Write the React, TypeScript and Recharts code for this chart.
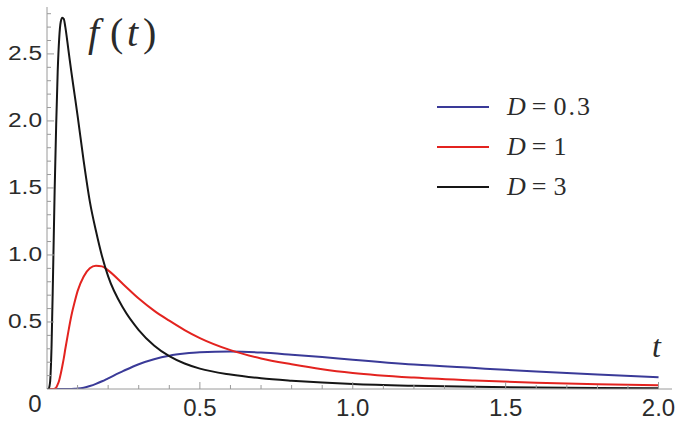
import React from "react";
import { LineChart, Line, XAxis, YAxis, Label } from "recharts";

// time grid (t) and the three curves
const tValues = [
  0, 0.005, 0.01, 0.015, 0.02, 0.025, 0.03, 0.035, 0.04, 0.045, 0.05, 0.055,
  0.06, 0.07, 0.08, 0.09, 0.1, 0.12, 0.14, 0.16, 0.18, 0.2, 0.25, 0.3, 0.35,
  0.4, 0.45, 0.5, 0.6, 0.7, 0.8, 0.9, 1.0, 1.2, 1.4, 1.6, 1.8, 2.0,
];
const d03 = [
  0, 0, 0, 0, 0, 0, 0, 0, 0, 0, 0, 0,
  0, 0, 0, 0.001, 0.003, 0.01, 0.022, 0.038, 0.058, 0.08, 0.135, 0.185, 0.222,
  0.248, 0.264, 0.274, 0.279, 0.272, 0.256, 0.238, 0.218, 0.182, 0.156, 0.131, 0.109, 0.088,
];
const d1 = [
  0, 0, 0, 0, 0, 0.002, 0.01, 0.034, 0.066, 0.114, 0.17, 0.23,
  0.3, 0.43, 0.55, 0.645, 0.73, 0.84, 0.9, 0.92, 0.915, 0.885, 0.78, 0.675, 0.585,
  0.51, 0.44, 0.38, 0.29, 0.228, 0.185, 0.148, 0.12, 0.085, 0.063, 0.047, 0.036, 0.028,
];
const d3 = [
  0, 0, 0.05, 0.33, 0.88, 1.48, 1.97, 2.37, 2.62, 2.74, 2.77, 2.76,
  2.7, 2.53, 2.36, 2.2, 2.04, 1.7, 1.4, 1.18, 0.99, 0.84, 0.6, 0.44, 0.325,
  0.245, 0.19, 0.152, 0.108, 0.08, 0.062, 0.048, 0.037, 0.024, 0.016, 0.011, 0.008, 0.006,
];

const xTicks = [
  0, 0.1, 0.2, 0.3, 0.4, 0.5, 0.6, 0.7, 0.8, 0.9, 1.0, 1.1, 1.2, 1.3, 1.4, 1.5,
  1.6, 1.7, 1.8, 1.9, 2.0,
];
const xMajor = [0, 0.5, 1.0, 1.5, 2.0];
const yTicks = [
  0.1, 0.2, 0.3, 0.4, 0.5, 0.6, 0.7, 0.8, 0.9, 1.0, 1.1, 1.2, 1.3, 1.4, 1.5,
  1.6, 1.7, 1.8, 1.9, 2.0, 2.1, 2.2, 2.3, 2.4, 2.5, 2.6, 2.7, 2.8,
];
const yMajor = [0.5, 1.0, 1.5, 2.0, 2.5];

const seriesKeys = ["d03", "d1", "d3"];
const seriesLabels = ["0.3", "1", "3"];
const seriesColors = ["#3a3a98", "#e3231f", "#161616"];

const chartData = tValues.map((t, i) => ({ t, d03: d03[i], d1: d1[i], d3: d3[i] }));

const AXIS = "#9a9a9a";
const LABEL = "#2b2b2b";
const SANS = "'Liberation Sans', Arial, sans-serif";
const SERIF = "'Liberation Serif', 'Times New Roman', serif";

const XTick = (props: any) => {
  const { x, y, payload } = props;
  const v = payload.value;
  const major = xMajor.includes(v);
  if (v === 0) {
    return (
      <text x={x - 12} y={y + 23} textAnchor="middle" fontSize={24} fontFamily={SANS} fill={LABEL}>
        0
      </text>
    );
  }
  return (
    <g>
      <line x1={x} x2={x} y1={y} y2={y - (major ? 7 : 4)} stroke={AXIS} strokeWidth={1} />
      {major && (
        <text x={x} y={y + 27} textAnchor="middle" fontSize={24} fontFamily={SANS} fill={LABEL}>
          {v.toFixed(1)}
        </text>
      )}
    </g>
  );
};

const YTick = (props: any) => {
  const { x, y, payload } = props;
  const v = payload.value;
  const major = yMajor.includes(v);
  return (
    <g>
      <line x1={x} x2={x + (major ? 7 : 4)} y1={y} y2={y} stroke={AXIS} strokeWidth={1} />
      {major && (
        <text
          x={x - 39}
          y={y + 6}
          textAnchor="start"
          fontSize={20}
          fontFamily={SANS}
          fill={LABEL}
          textLength={34}
          lengthAdjust="spacingAndGlyphs"
        >
          {v.toFixed(1)}
        </text>
      )}
    </g>
  );
};

const LegendBox = () => (
  <div style={{ position: "absolute", left: 437, top: 87, display: "flex", flexDirection: "column" }}>
    {seriesKeys.map((k, i) => (
      <div key={k} style={{ display: "flex", alignItems: "center", height: 40 }}>
        <span style={{ width: 52, height: 0, borderTop: `2px solid ${seriesColors[i]}`, display: "inline-block" }} />
        <span style={{ marginLeft: 18, fontFamily: SERIF, fontSize: 26, color: LABEL, letterSpacing: 2, lineHeight: 1 }}>
          <i>D</i>
          <span style={{ margin: "0 5px 0 4px" }}>=</span>
          {seriesLabels[i]}
        </span>
      </div>
    ))}
  </div>
);

const FLabel = () => (
  <g fill={LABEL} fontFamily={SERIF} fontSize={40}>
    <text x={88} y={46} fontStyle="italic">f</text>
    <text x={110} y={46}>(</text>
    <text x={127} y={46} fontStyle="italic">t</text>
    <text x={143} y={46}>)</text>
  </g>
);

const TLabel = () => (
  <text x={652} y={357} fill={LABEL} fontFamily={SERIF} fontSize={32} fontStyle="italic">
    t
  </text>
);

export default function App() {
  return (
    <div style={{ position: "relative", width: 685, height: 423, background: "#fff" }}>
      <style>{"body{margin:0}"}</style>
      <LineChart width={685} height={423} data={chartData} margin={{ top: 7, right: 13, bottom: 0, left: 0 }}>
        <XAxis
          dataKey="t"
          type="number"
          domain={[0, 2.044]}
          ticks={xTicks}
          interval={0}
          height={34}
          tickSize={0}
          tickMargin={0}
          tick={XTick}
          axisLine={{ stroke: AXIS }}
          allowDataOverflow
        >
          <Label content={TLabel} />
        </XAxis>
        <YAxis
          type="number"
          domain={[0, 2.85]}
          ticks={yTicks}
          interval={0}
          width={47}
          tickSize={0}
          tickMargin={0}
          tick={YTick}
          axisLine={{ stroke: AXIS }}
          allowDataOverflow
        >
          <Label content={FLabel} />
        </YAxis>
        {seriesKeys.map((k, i) => (
          <Line
            key={k}
            dataKey={k}
            type="monotone"
            stroke={seriesColors[i]}
            strokeWidth={2}
            dot={false}
            isAnimationActive={false}
          />
        ))}
      </LineChart>
      <LegendBox />
    </div>
  );
}
